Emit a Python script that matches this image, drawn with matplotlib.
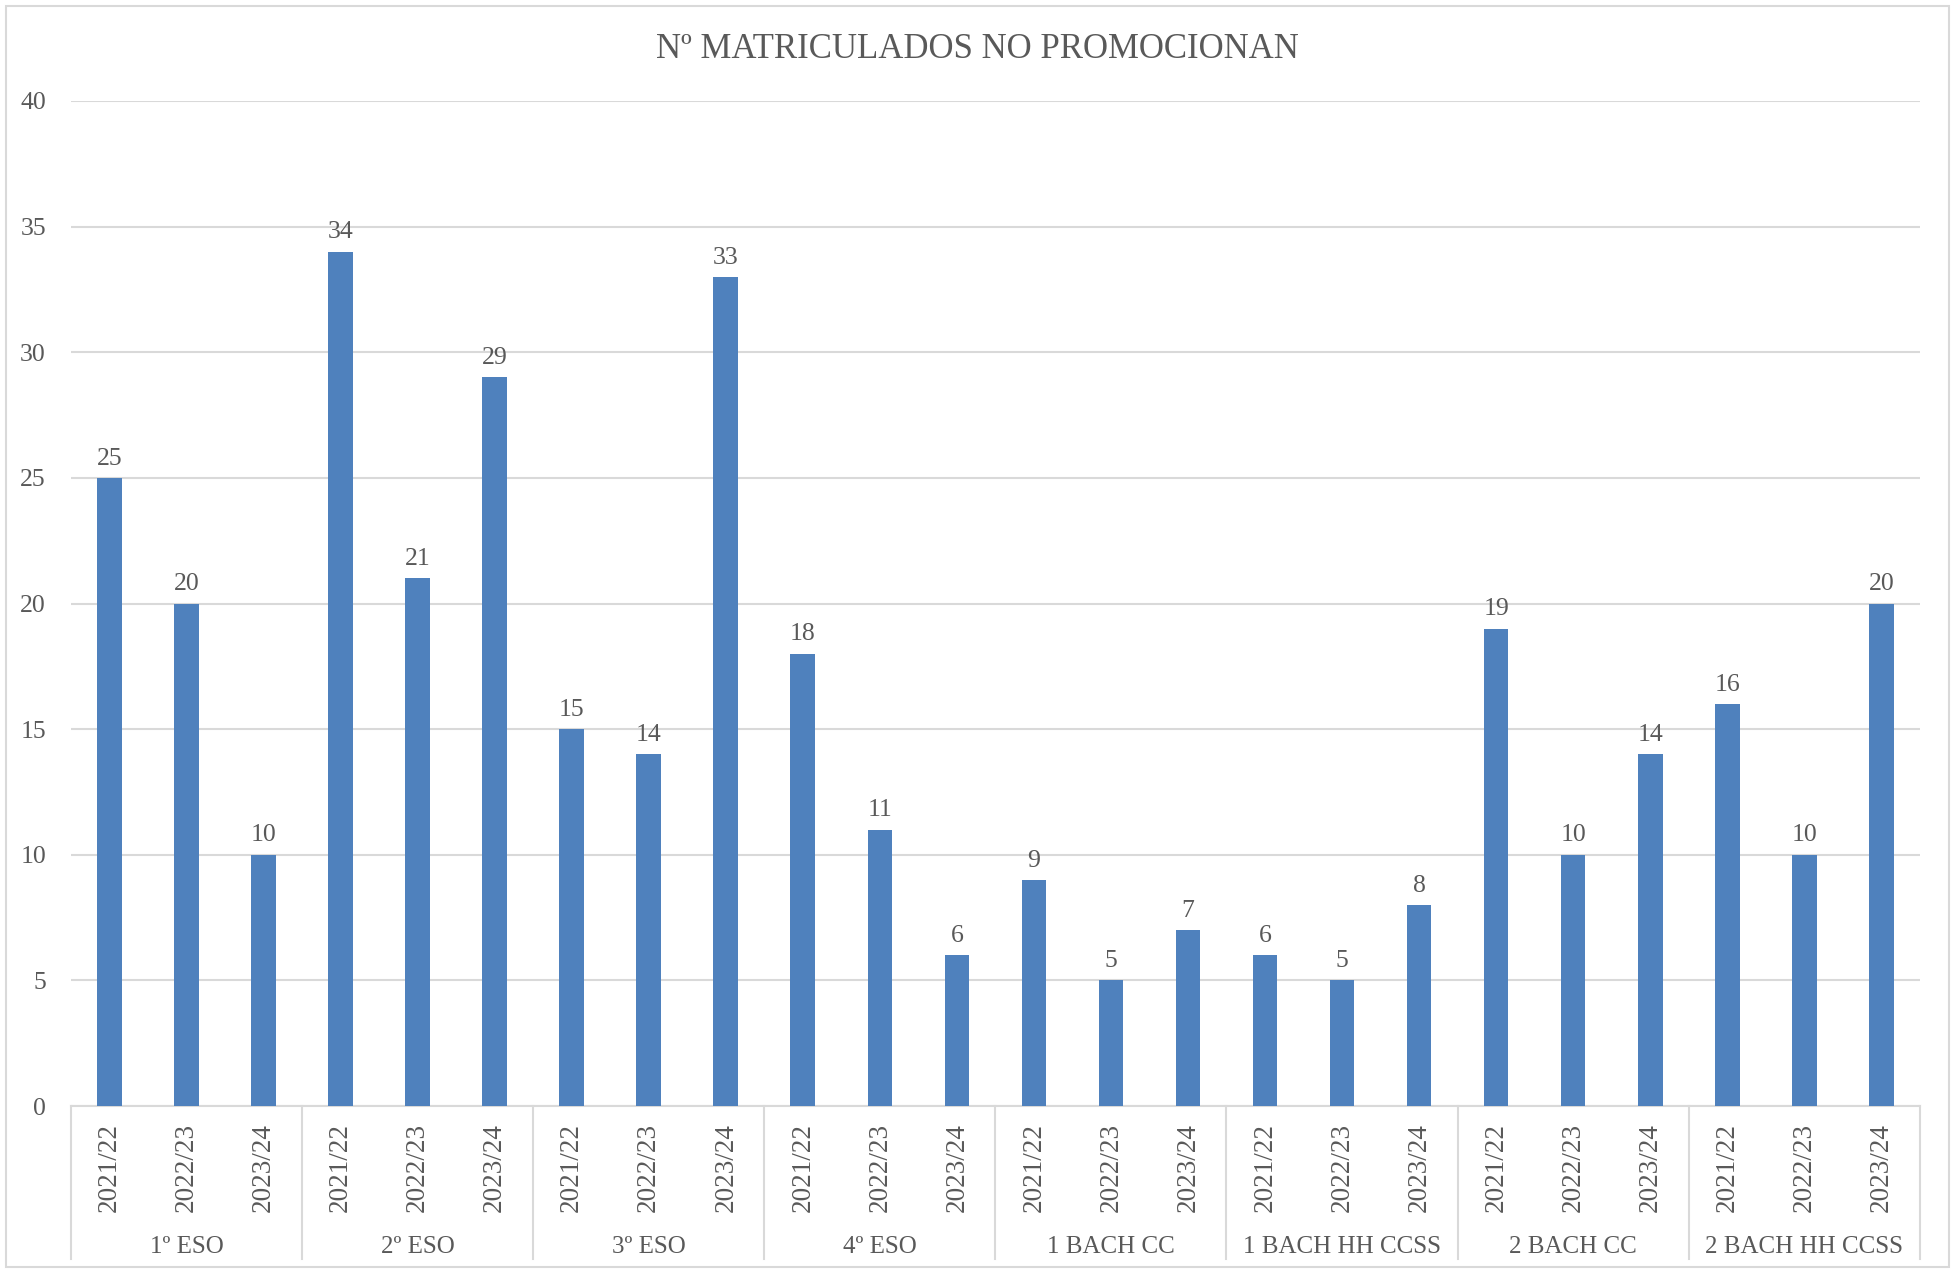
import numpy as np
import matplotlib
matplotlib.use("Agg")
import matplotlib.pyplot as plt
import matplotlib.transforms as mtransforms
from matplotlib.patches import Rectangle

# ---------------------------------------------------------
# Datos
# ---------------------------------------------------------
cursos = ['1º ESO', '2º ESO', '3º ESO', '4º ESO', '1 BACH CC',
          '1 BACH HH CCSS', '2 BACH CC', '2 BACH HH CCSS']
anios = ['2021/22', '2022/23', '2023/24']
no_promocionan = [25, 20, 10,
                  34, 21, 29,
                  15, 14, 33,
                  18, 11, 6,
                  9, 5, 7,
                  6, 5, 8,
                  19, 10, 14,
                  16, 10, 20]

BAR_COLOR = '#4F81BD'
TEXT_COLOR = '#595959'
GRID_COLOR = '#D9D9D9'
FS = 18.5

plt.rcParams['font.family'] = ['Liberation Serif', 'DejaVu Serif']

fig = plt.figure(figsize=(19.55, 12.72), dpi=100)
ax = fig.add_axes([0.0363, 0.1305, 0.9457, 0.7901])

n = len(no_promocionan)
x = np.arange(n)
bars = ax.bar(x, no_promocionan, width=0.32, color=BAR_COLOR, zorder=3)

# etiquetas de datos
for xi, v in zip(x, no_promocionan):
    ax.annotate(str(v), (xi, v), xytext=(0, 6), textcoords='offset points',
                ha='center', va='bottom', fontsize=FS, color=TEXT_COLOR)

ax.set_xlim(-0.5, n - 0.5)
ax.set_ylim(0, 40)
ax.set_yticks(range(0, 41, 5))
ax.yaxis.grid(True, color=GRID_COLOR, linewidth=1.5, zorder=0)
ax.tick_params(axis='y', length=0, pad=18, labelsize=FS, labelcolor=TEXT_COLOR)

ax.set_xticks(x)
ax.set_xticklabels(anios * len(cursos), rotation=90, va='top')
ax.tick_params(axis='x', length=0, pad=12, labelsize=FS + 1, labelcolor=TEXT_COLOR)

for s in ['top', 'right', 'left']:
    ax.spines[s].set_visible(False)
ax.spines['bottom'].set_color(GRID_COLOR)
ax.spines['bottom'].set_linewidth(1.5)

# separadores y nombres de curso
trans = mtransforms.blended_transform_factory(ax.transData, ax.transAxes)
for g in range(len(cursos) + 1):
    xs = g * 3 - 0.5
    ax.plot([xs, xs], [0, -0.152], transform=trans, color=GRID_COLOR,
            linewidth=1.5, clip_on=False)
for g, nombre in enumerate(cursos):
    ax.text(g * 3 + 1, -0.140, nombre, transform=trans, ha='center',
            va='center', fontsize=FS - 0.5, color=TEXT_COLOR)

fig.text(0.5, 0.961, 'Nº MATRICULADOS NO PROMOCIONAN', ha='center',
         va='center', fontsize=25, color=TEXT_COLOR)

# borde del gráfico
fig.patches.append(Rectangle((0.003, 0.004), 0.994, 0.991, transform=fig.transFigure,
                             fill=False, edgecolor=GRID_COLOR, linewidth=1.5))

plt.savefig('out.png', dpi=100)
